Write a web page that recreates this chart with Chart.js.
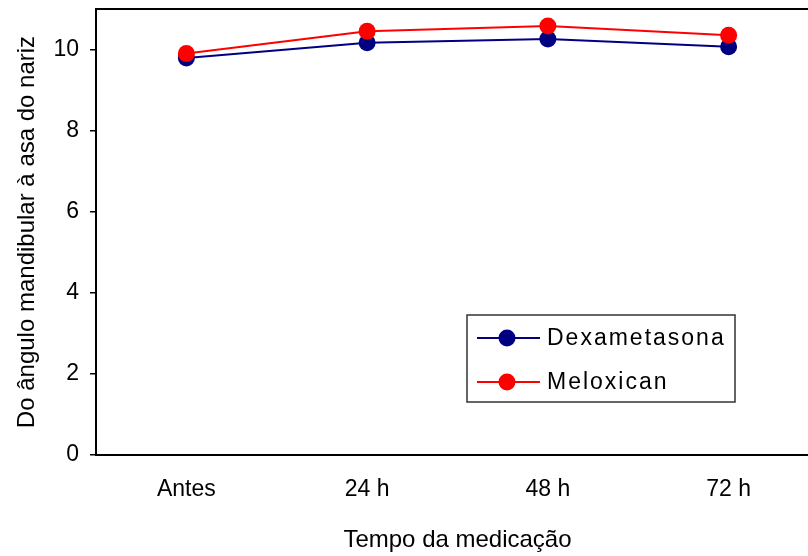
<!DOCTYPE html>
<html>
<head>
<meta charset="utf-8">
<script src="https://cdn.jsdelivr.net/npm/chart.js@4/dist/chart.umd.min.js"></script>
<style>
  html, body { margin: 0; padding: 0; background: #fff; overflow: hidden; width: 808px; height: 556px; }
  canvas { display: block; }
</style>
</head>
<body>
<canvas id="c" width="830" height="556"></canvas>
<script>
// Time points and measurements (cm) for each treatment group
const categories = ['Antes', '24 h', '48 h', '72 h'];
const dexametasona = [9.79, 10.17, 10.26, 10.07];
const meloxican = [9.90, 10.45, 10.58, 10.35];
const seriesNames = ['Dexametasona', 'Meloxican'];
const yTicks = [0, 2, 4, 6, 8, 10];

const FONT = '"Liberation Sans", Arial, sans-serif';

// Black frame around the plotting area
const framePlugin = {
  id: 'frame',
  afterDatasetsDraw(chart) {
    const { ctx, chartArea: a } = chart;
    ctx.save();
    ctx.strokeStyle = '#000';
    ctx.lineWidth = 2;
    ctx.strokeRect(a.left, a.top, a.right - a.left, a.bottom - a.top);
    ctx.restore();
  }
};

// Boxed legend drawn inside the plotting area
const boxLegend = {
  id: 'boxLegend',
  afterDraw(chart) {
    const { ctx, chartArea: a } = chart;
    const x0 = a.left + 371, y0 = a.top + 306, w = 268, h = 87;
    ctx.save();
    ctx.fillStyle = '#fff';
    ctx.fillRect(x0, y0, w, h);
    ctx.strokeStyle = '#333';
    ctx.lineWidth = 1.5;
    ctx.strokeRect(x0, y0, w, h);
    chart.data.datasets.forEach((ds, i) => {
      const cy = y0 + 23 + i * 44;
      ctx.strokeStyle = ds.borderColor;
      ctx.lineWidth = 2;
      ctx.beginPath();
      ctx.moveTo(x0 + 10, cy);
      ctx.lineTo(x0 + 73, cy);
      ctx.stroke();
      ctx.fillStyle = ds.backgroundColor;
      ctx.beginPath();
      ctx.arc(x0 + 40, cy, 8.5, 0, Math.PI * 2);
      ctx.fill();
      ctx.fillStyle = '#000';
      ctx.font = '23px ' + FONT;
      ctx.letterSpacing = '2px';
      ctx.textBaseline = 'middle';
      ctx.textAlign = 'left';
      ctx.fillText(ds.label, x0 + 80, cy + 1);
    });
    ctx.restore();
  }
};

new Chart(document.getElementById('c'), {
  type: 'line',
  data: {
    labels: categories,
    datasets: [
      {
        label: seriesNames[0],
        data: dexametasona,
        borderColor: '#000080',
        backgroundColor: '#000080',
        borderWidth: 2,
        pointRadius: 8.5,
        pointBorderWidth: 0,
        tension: 0,
        order: 1
      },
      {
        label: seriesNames[1],
        data: meloxican,
        borderColor: '#ff0000',
        backgroundColor: '#ff0000',
        borderWidth: 2,
        pointRadius: 8.5,
        pointBorderWidth: 0,
        tension: 0,
        order: 0
      }
    ]
  },
  options: {
    responsive: false,
    animation: false,
    events: [],
    layout: { autoPadding: false, padding: { left: 0, top: 9, right: 11, bottom: 0 } },
    plugins: {
      legend: { display: false },
      tooltip: { enabled: false }
    },
    scales: {
      x: {
        offset: true,
        grid: { display: false, drawTicks: false },
        border: { display: false },
        ticks: { color: '#000', font: { family: FONT, size: 23 }, padding: 21 },
        title: {
          display: true,
          text: 'Tempo da medicação',
          color: '#000',
          font: { family: FONT, size: 24 },
          padding: { bottom: 1 }
        },
        afterFit(s) { s.height = 101; s.paddingLeft = 0; s.paddingRight = 0; }
      },
      y: {
        min: 0,
        max: 11,
        afterBuildTicks(s) { s.ticks = yTicks.map(v => ({ value: v })); },
        grid: { drawOnChartArea: false, drawTicks: true, tickLength: 6, color: '#000', lineWidth: 1.5 },
        border: { display: false },
        ticks: { color: '#000', font: { family: FONT, size: 23 }, padding: 11 },
        title: {
          display: true,
          text: 'Do ângulo mandibular à asa do nariz',
          color: '#000',
          font: { family: FONT, size: 24 },
          padding: { top: 13 }
        },
        afterFit(s) { s.width = 96; s.paddingTop = 0; s.paddingBottom = 0; }
      }
    }
  },
  plugins: [framePlugin, boxLegend]
});
</script>
</body>
</html>
